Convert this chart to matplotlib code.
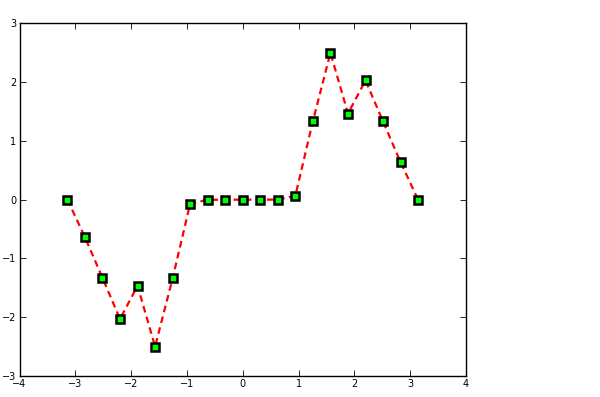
import matplotlib
matplotlib.use("Agg")
import matplotlib.pyplot as plt

x_vals = [-3.1416, -2.8274, -2.5133, -2.1991, -1.8850, -1.5708, -1.2566,
          -0.9425, -0.6283, -0.3142, 0.0, 0.3142, 0.6283, 0.9425, 1.2566,
          1.5708, 1.8850, 2.1991, 2.5133, 2.8274, 3.1416]
y_vals = [0.0, -0.6385, -1.3307, -2.0296, -1.4654, -2.50, -1.3376,
          -0.0672, -0.0021, 0.0, 0.0, 0.0, 0.0021, 0.0672, 1.3376,
          2.50, 1.4654, 2.0296, 1.3307, 0.6385, 0.0]
x_ticks = [-4, -3, -2, -1, 0, 1, 2, 3, 4]
y_ticks = [-3, -2, -1, 0, 1, 2, 3]

fig = plt.figure(figsize=(6.0, 3.97), dpi=100)
ax = fig.add_axes([0.0325, 0.0529, 0.7442, 0.8882])
ax.plot(x_vals, y_vals, color='red', linestyle=(0, (3, 2)), linewidth=1.6,
        marker='s', markersize=5.5, markeredgewidth=1.8,
        markeredgecolor='black', markerfacecolor='#00ff00')
ax.set_xlim(-4, 4)
ax.set_ylim(-3, 3)
ax.set_xticks(x_ticks)
ax.set_yticks(y_ticks)
ax.tick_params(direction='in', top=True, right=True, length=4, width=0.6,
               labelsize=7, pad=2.5, colors='black')
for s in ax.spines.values():
    s.set_linewidth(1.0)
fig.savefig('out.png', dpi=100)
